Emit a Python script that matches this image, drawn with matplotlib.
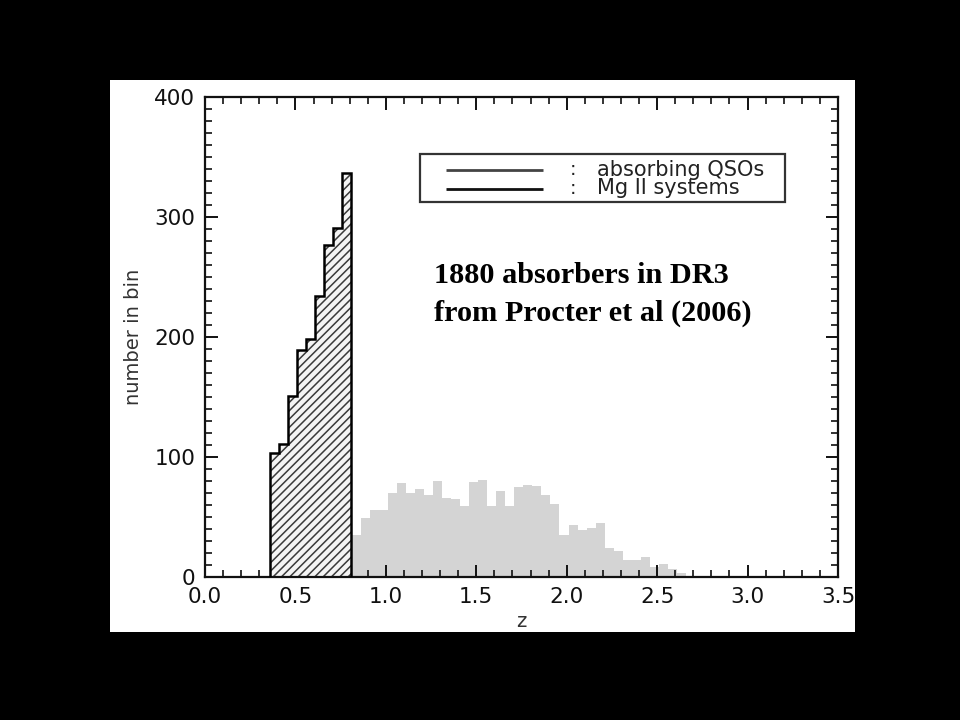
import numpy as np
import matplotlib
matplotlib.use("Agg")
import matplotlib.pyplot as plt
from matplotlib.patches import Rectangle
from matplotlib.ticker import MultipleLocator, FormatStrFormatter

# ---- data ----
bin_width = 0.05
mgii_start = 0.36
mgii_counts = [103, 111, 151, 189, 198, 234, 277, 291, 337]
qso_start = 0.81
qso_counts = [35, 49, 56, 56, 70, 78, 70, 73, 68, 80, 66, 65, 59, 79, 81, 59,
              72, 59, 75, 77, 76, 68, 61, 35, 43, 39, 41, 45, 24, 22, 14, 14,
              17, 8, 11, 7, 3, 1]
legend_labels = ["absorbing QSOs", "Mg II systems"]
xticks = [0.0, 0.5, 1.0, 1.5, 2.0, 2.5, 3.0, 3.5]
yticks = [0, 100, 200, 300, 400]
note_lines = ["1880 absorbers in DR3", "from Procter et al (2006)"]

mgii_edges = mgii_start + bin_width * np.arange(len(mgii_counts) + 1)
qso_edges = qso_start + bin_width * np.arange(len(qso_counts) + 1)

plt.rcParams['hatch.linewidth'] = 1.1
plt.rcParams['font.family'] = ['DejaVu Sans']

W, H = 960, 720
fig = plt.figure(figsize=(9.6, 7.2), dpi=100, facecolor='black')
fig.patches.append(Rectangle((110 / W, 1 - 632 / H), 745 / W, 552 / H,
                             transform=fig.transFigure, facecolor='white',
                             edgecolor='none', zorder=-10))

ax = fig.add_axes([205 / W, 1 - 577 / H, 633 / W, 480 / H])
ax.set_zorder(5)
ax.set_facecolor('white')

# gray QSO histogram
ax.stairs(qso_counts, qso_edges, baseline=0, fill=True,
          facecolor='#d4d4d4', edgecolor='none', zorder=1)

# hatched Mg II histogram
ax.bar(mgii_edges[:-1], mgii_counts, width=bin_width, align='edge',
       facecolor='#f4f4f4', edgecolor='#3a3a3a', hatch='////', linewidth=0,
       zorder=2)
ax.stairs(mgii_counts, mgii_edges, baseline=0, fill=False,
          edgecolor='black', linewidth=1.8, zorder=3)

ax.set_xlim(0, 3.5)
ax.set_ylim(0, 400)
ax.set_xticks(xticks)
ax.set_yticks(yticks)
ax.xaxis.set_major_formatter(FormatStrFormatter('%.1f'))
ax.xaxis.set_minor_locator(MultipleLocator(0.1))
ax.yaxis.set_minor_locator(MultipleLocator(10))
ax.tick_params(which='both', direction='in', top=True, right=True,
               color='#111111', labelcolor='#111111', labelsize=15.5)
ax.tick_params(which='major', length=9, width=1.4, pad=7)
ax.tick_params(which='minor', length=5, width=1.2)
for s in ax.spines.values():
    s.set_linewidth(1.6)
    s.set_color('#111111')

ax.set_xlabel('z', fontsize=14, color='#333333', labelpad=4)
ax.set_ylabel('number in bin', fontsize=14, color='#333333', labelpad=8)

# legend box (drawn manually to match IDL layout)
def fx(px):
    return (px - 205) / 633

def fy(py):
    return (577 - py) / 480

ax.add_patch(Rectangle((fx(420), fy(202)), fx(785) - fx(420), fy(154) - fy(202),
                       transform=ax.transAxes, facecolor='white',
                       edgecolor='#333333', linewidth=1.6, zorder=5))
line_colors = ['#444444', '#111111']
line_y = [169.5, 188.5]
for lab, col, py in zip(legend_labels, line_colors, line_y):
    ax.plot([fx(446), fx(543)], [fy(py), fy(py)], color=col, linewidth=2.0,
            transform=ax.transAxes, zorder=6, solid_capstyle='butt')
    ax.text(fx(573), fy(py), ':', fontsize=14, color='#222222',
            ha='center', va='center', transform=ax.transAxes, zorder=6)
    ax.text(fx(597), fy(py), lab, fontsize=15, color='#222222',
            ha='left', va='center', transform=ax.transAxes, zorder=6)

# annotation
fig.text(434 / W, 1 - 283 / H, note_lines[0], fontsize=21.8, fontweight='bold',
         family='Liberation Serif', color='black', va='baseline', ha='left',
         zorder=10)
fig.text(434 / W, 1 - 321 / H, note_lines[1], fontsize=21.8, fontweight='bold',
         family='Liberation Serif', color='black', va='baseline', ha='left',
         zorder=10)

fig.savefig('out.png', dpi=100, facecolor='black')
